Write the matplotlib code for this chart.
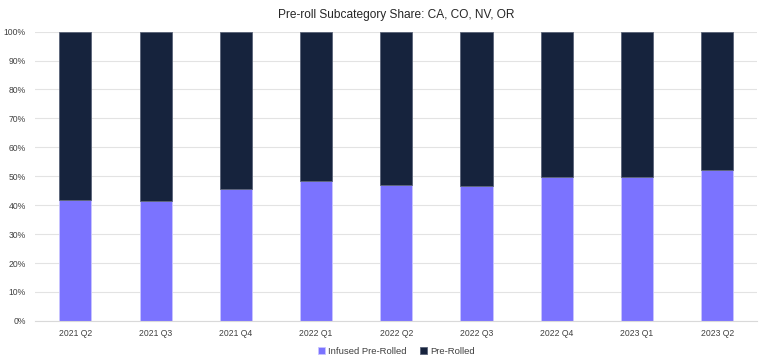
import numpy as np
import matplotlib
matplotlib.use('Agg')
import matplotlib.pyplot as plt
from matplotlib.ticker import PercentFormatter

# Quarters and share of infused pre-rolls (%), the rest is plain pre-rolled
quarters = ['2021 Q2', '2021 Q3', '2021 Q4', '2022 Q1', '2022 Q2',
            '2022 Q3', '2022 Q4', '2023 Q1', '2023 Q2']
infused = [41.9, 41.5, 45.6, 48.3, 47.0, 46.5, 49.6, 49.9, 52.0]
pre_rolled = [100 - v for v in infused]

plt.rcParams['font.family'] = ['Liberation Sans', 'DejaVu Sans']

fig = plt.figure(figsize=(7.68, 3.63), dpi=100)
ax = fig.add_axes([0.046, 0.116, 0.94, 0.797])

x = np.arange(len(quarters))
ax.bar(x, infused, width=0.4, color='#7B73FF', edgecolor='#C9C5FF',
       linewidth=0.6, label='Infused Pre-Rolled', zorder=2)
ax.bar(x, pre_rolled, width=0.4, bottom=infused, color='#16233D',
       edgecolor='#5A6378', linewidth=0.6, label='Pre-Rolled', zorder=2)

ax.set_xlim(-0.5, len(quarters) - 0.5)
ax.set_ylim(0, 100)
ax.set_yticks(range(0, 101, 10))
ax.yaxis.set_major_formatter(PercentFormatter(decimals=0))
ax.set_xticks(x)
ax.set_xticklabels(quarters)
ax.tick_params(axis='both', length=0, labelsize=6.2, colors='#404040')
ax.tick_params(axis='y', pad=7)
ax.tick_params(axis='x', pad=6)

ax.yaxis.grid(True, color='#E3E3E3', linewidth=0.8, zorder=0)
for s in ['top', 'right', 'left']:
    ax.spines[s].set_visible(False)
ax.spines['bottom'].set_color('#D9D9D9')

ax.set_title('Pre-roll Subcategory Share: CA, CO, NV, OR', fontsize=8.6,
             color='#262626', pad=10)

ax.legend(loc='upper center', bbox_to_anchor=(0.5, -0.06), ncol=2,
          frameon=False, fontsize=6.8, handlelength=0.7, handleheight=0.7,
          handletextpad=0.3, columnspacing=1.5, labelcolor='#404040')

fig.savefig('out.png', dpi=100)
